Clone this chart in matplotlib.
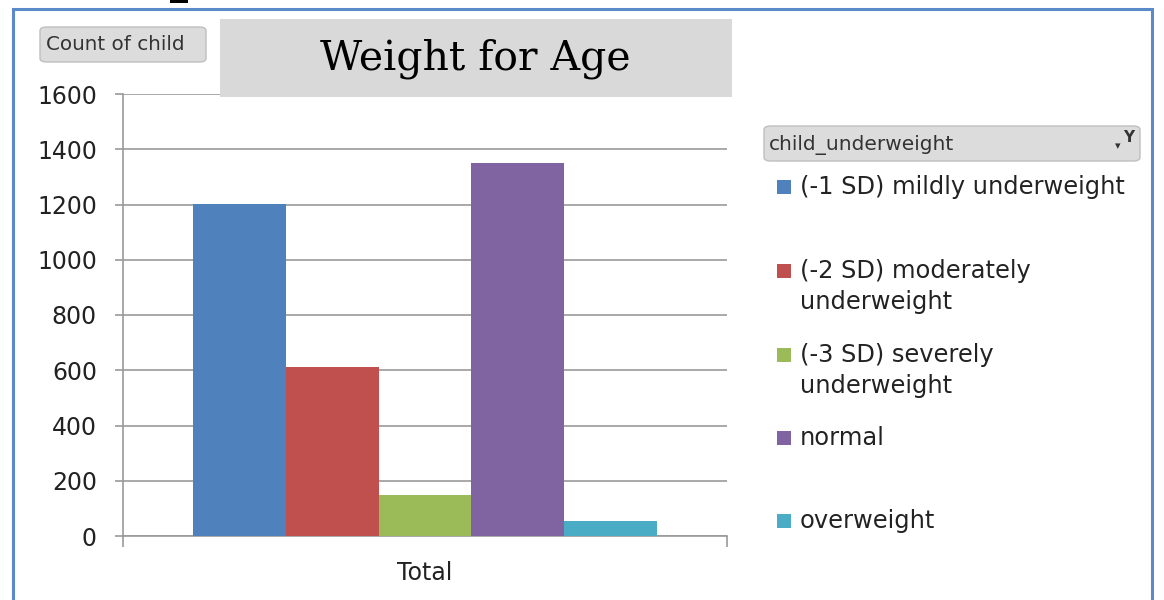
import matplotlib
matplotlib.use("Agg")
import matplotlib.pyplot as plt
from matplotlib.patches import FancyBboxPatch, Rectangle
import numpy as np

categories = ["(-1 SD) mildly underweight", "(-2 SD) moderately\nunderweight",
              "(-3 SD) severely\nunderweight", "normal", "overweight"]
values = [1203, 612, 148, 1349, 55]
colors = ["#4F81BD", "#C0504D", "#9BBB59", "#8064A2", "#4BACC6"]
x_label = ["Total"]
yticks = [0, 200, 400, 600, 800, 1000, 1200, 1400, 1600]

W, H = 1164, 600
plt.rcParams['font.family'] = ['DejaVu Sans']
fig = plt.figure(figsize=(W / 100, H / 100), dpi=100)

def fx(px):
    return px / W

def fy(py):
    return 1 - py / H

# outer border
fig.patches.append(Rectangle((fx(13), fy(640)), fx(1152) - fx(13), fy(9) - fy(640),
                             transform=fig.transFigure, fill=False, ec="#5B8ACB", lw=2.2))
fig.patches.append(Rectangle((fx(170), fy(3)), fx(188) - fx(170), fy(0) - fy(3),
                             transform=fig.transFigure, fc="black", ec="none"))

ax = fig.add_axes([fx(123), fy(536), fx(727) - fx(123), fy(94) - fy(536)])
n = len(values)
group_w = 0.767
bw = group_w / n
offsets = -group_w / 2 + bw / 2 + bw * np.arange(n)
for i in range(n):
    ax.bar(offsets[i], values[i], width=bw, color=colors[i], edgecolor="none", zorder=3)

ax.set_xlim(-0.5, 0.5)
ax.set_ylim(0, 1600)
ax.set_yticks(yticks)
ax.set_yticklabels([str(v) for v in yticks], fontsize=17, color="#222222")
ax.yaxis.grid(True, color="#9A9A9A", lw=1.2, zorder=0)
for s in ["top", "right"]:
    ax.spines[s].set_visible(False)
ax.spines["left"].set_color("#9A9A9A")
ax.spines["bottom"].set_color("#9A9A9A")
ax.spines["left"].set_linewidth(1.2)
ax.spines["bottom"].set_linewidth(1.2)
ax.tick_params(axis="y", length=5.8, color="#9A9A9A", width=1.2, pad=13)
ax.set_xticks([-0.5, 0.5])
ax.set_xticklabels(["", ""])
ax.tick_params(axis="x", which="major", length=8, color="#9A9A9A", width=1.2)
ax.set_xticks([0], minor=True)
ax.set_xticklabels(x_label, minor=True, fontsize=17, color="#222222")
ax.tick_params(axis="x", which="minor", length=0, pad=18)

# title box
fig.patches.append(Rectangle((fx(220), fy(97)), fx(732) - fx(220), fy(19) - fy(97),
                             transform=fig.transFigure, fc="#D9D9D9", ec="none", zorder=5))
fig.text(fx(475), fy(59), "Weight for Age", fontsize=29.5, family=["DejaVu Serif"],
         ha="center", va="center", zorder=6)

# count of child button
fig.patches.append(FancyBboxPatch((fx(40), fy(62)), fx(206) - fx(40), fy(27) - fy(62),
                                  boxstyle="round,pad=0,rounding_size=0.006",
                                  transform=fig.transFigure, fc="#DCDCDC", ec="#BFBFBF", lw=1))
fig.text(fx(46), fy(45), "Count of child", fontsize=14.3, color="#333333", ha="left", va="center")

# legend header
fig.patches.append(FancyBboxPatch((fx(764), fy(161)), fx(1140) - fx(764), fy(126) - fy(161),
                                  boxstyle="round,pad=0,rounding_size=0.006",
                                  transform=fig.transFigure, fc="#DCDCDC", ec="#BFBFBF", lw=1))
fig.text(fx(769), fy(145), "child_underweight", fontsize=14.5, color="#333333", ha="left", va="center")
fig.text(fx(1118), fy(146), "\u25BE", fontsize=8, color="#333333", ha="center", va="center")
fig.text(fx(1129), fy(138), "Y", fontsize=11, color="#333333", ha="center", va="center", weight="bold")

# legend entries
entry_y = [187, 271, 355, 438, 521]
for i in range(n):
    y = entry_y[i]
    fig.patches.append(Rectangle((fx(777), fy(y + 7)), fx(791) - fx(777), fy(y - 7) - fy(y + 7),
                                 transform=fig.transFigure, fc=colors[i], ec="none"))
    lines = categories[i].split("\n")
    for j, ln in enumerate(lines):
        fig.text(fx(800), fy(y + j * 31), ln, fontsize=17.4, color="#222222", ha="left", va="center")

fig.savefig("out.png", dpi=100)
